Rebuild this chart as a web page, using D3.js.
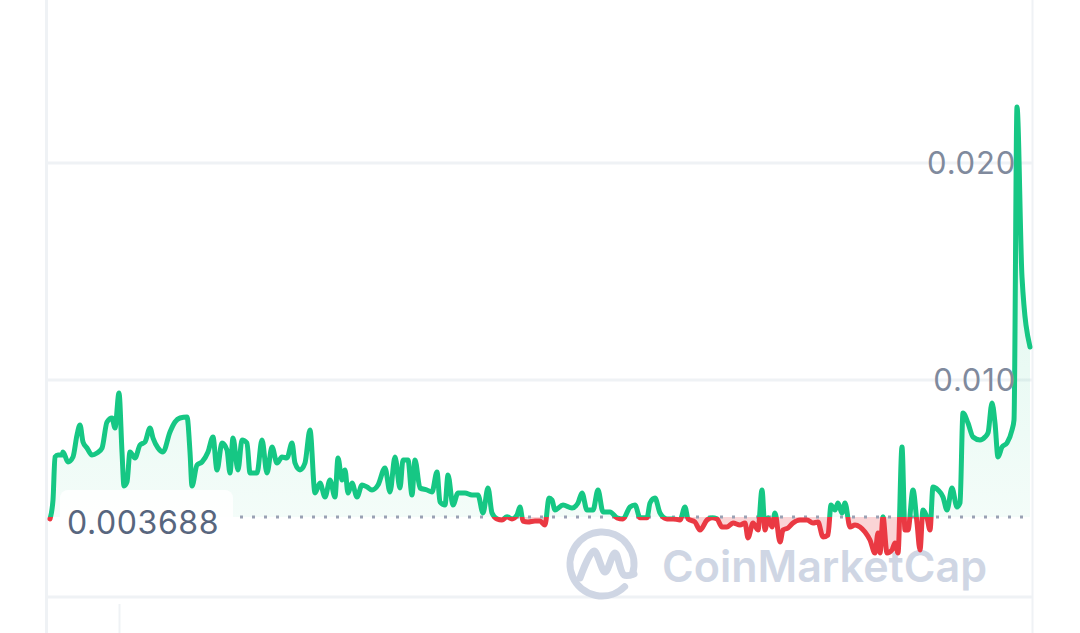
<!DOCTYPE html>
<html><head><meta charset="utf-8">
<script src="https://cdn.jsdelivr.net/npm/d3@7/dist/d3.min.js"></script>
<style>html,body{margin:0;padding:0;background:#fff;}svg{display:block;}</style>
</head><body>
<svg id="chart" width="1080" height="633"></svg>
<script>
// time (hours since start) and price (USD)
const hours = [0,3,5,8,12,13,18,23,27,30,33,37,42,47,52,57,62,65,69,72,74,77,80,85,90,95,100,103,108,113,120,125,130,137,140,142,147,152,158,163,167,172,177,180,183,188,192,197,200,207,212,217,222,227,232,237,242,245,250,255,260,265,270,275,280,285,288,292,295,298,302,307,312,317,322,328,335,340,345,350,353,358,362,365,370,377,382,387,390,395,398,403,408,415,422,428,433,438,442,447,452,457,462,467,470,473,478,485,490,495,499,502,505,513,522,528,532,537,543,548,553,560,567,573,580,585,590,597,600,605,610,617,623,630,635,638,645,650,657,662,667,672,677,683,690,695,698,703,708,712,715,718,722,725,730,733,738,743,750,757,763,768,773,778,781,785,788,792,795,800,805,810,815,820,825,828,830,833,837,842,845,848,852,855,858,863,867,870,873,877,880,883,888,893,897,902,907,910,913,918,923,930,935,938,942,945,948,952,957,962,964,967,972,980];
const prices = [0.003600,0.004470,0.006452,0.006544,0.006544,0.006682,0.006221,0.006452,0.007465,0.007926,0.007143,0.006866,0.006544,0.006636,0.006866,0.008065,0.008249,0.007788,0.009401,0.006682,0.005115,0.005300,0.006682,0.006406,0.007005,0.007143,0.007788,0.007327,0.006866,0.006682,0.007604,0.008065,0.008249,0.008295,0.006682,0.005115,0.006083,0.006221,0.006682,0.007373,0.005853,0.007097,0.006774,0.005714,0.007327,0.005853,0.007235,0.007097,0.005714,0.005714,0.007235,0.005714,0.006912,0.006175,0.006452,0.006406,0.007097,0.006175,0.005853,0.006175,0.007696,0.004793,0.005253,0.004608,0.005392,0.004608,0.006406,0.005392,0.005853,0.004793,0.005253,0.004608,0.005161,0.005069,0.004931,0.005161,0.005945,0.004839,0.006452,0.005023,0.006313,0.006313,0.004700,0.006313,0.005023,0.004931,0.004839,0.005760,0.004378,0.004240,0.005622,0.004240,0.004793,0.004793,0.004700,0.004700,0.003871,0.005023,0.003871,0.003600,0.003550,0.003700,0.003600,0.003780,0.004147,0.003500,0.003456,0.003500,0.003500,0.003318,0.004562,0.004470,0.004009,0.004240,0.004101,0.004332,0.004793,0.004009,0.004009,0.004931,0.003917,0.003917,0.003650,0.003600,0.004147,0.004240,0.003650,0.003650,0.004332,0.004562,0.003871,0.003600,0.003600,0.003548,0.004147,0.003600,0.003456,0.003088,0.003548,0.003650,0.003600,0.003226,0.003226,0.003410,0.003318,0.003410,0.002719,0.003410,0.003088,0.004931,0.003088,0.003650,0.003226,0.003871,0.002535,0.003088,0.003180,0.003410,0.003548,0.003548,0.003410,0.003456,0.002765,0.002857,0.004240,0.004009,0.004332,0.003871,0.004332,0.003226,0.003318,0.003226,0.002995,0.002627,0.002028,0.002949,0.002028,0.003700,0.002028,0.002166,0.002488,0.002028,0.006913,0.003088,0.003088,0.004931,0.003410,0.002166,0.004009,0.003650,0.003088,0.005069,0.004931,0.004608,0.004009,0.005023,0.004147,0.004332,0.008479,0.008018,0.007373,0.007235,0.007373,0.007558,0.008940,0.008018,0.006452,0.006913,0.007097,0.007696,0.008157,0.022581,0.014747,0.011521];
const openPrice = 0.003688;
const openLabel = "0.003688";
const yTicks = [0.010, 0.020];
const yTickLabels = ["0.010", "0.020"];
const watermark = "CoinMarketCap";

const data = hours.map((h,i)=>({h, p: prices[i]}));
const svg = d3.select("#chart");
const W = 1080, H = 633;
const x = d3.scaleLinear().domain([0, 980]).range([50, 1030]);
const y = d3.scaleLinear().domain([0, 0.02]).range([597, 163]);
const FONT = "Inter, 'Noto Sans', sans-serif";
const grid = "#eff2f5";
const green = "#16c784", red = "#ea3943";
const by = y(openPrice);

const defs = svg.append("defs");
const gg = defs.append("linearGradient").attr("id","gfill").attr("gradientUnits","userSpaceOnUse")
  .attr("x1",0).attr("x2",0).attr("y1", y(d3.max(prices))).attr("y2", by);
gg.append("stop").attr("offset","0%").attr("stop-color",green).attr("stop-opacity",0.16);
gg.append("stop").attr("offset","100%").attr("stop-color",green).attr("stop-opacity",0.05);
defs.append("clipPath").attr("id","clipUp").append("rect").attr("x",0).attr("y",0).attr("width",W).attr("height",by);
defs.append("clipPath").attr("id","clipDown").append("rect").attr("x",0).attr("y",by).attr("width",W).attr("height",H-by);

// frame lines
svg.append("line").attr("x1",46.5).attr("x2",46.5).attr("y1",0).attr("y2",H).attr("stroke",grid).attr("stroke-width",3);
svg.append("line").attr("x1",1032.5).attr("x2",1032.5).attr("y1",0).attr("y2",H).attr("stroke",grid).attr("stroke-width",2);
// gridlines
[0, ...yTicks].forEach(v=>{
  svg.append("line").attr("x1",47).attr("x2",1032).attr("y1",y(v)).attr("y2",y(v)).attr("stroke",grid).attr("stroke-width",3);
});
// x tick below
svg.append("line").attr("x1",119.5).attr("x2",119.5).attr("y1",604).attr("y2",H).attr("stroke",grid).attr("stroke-width",2);

// watermark
const wm = svg.append("g").attr("fill","none").attr("stroke","#cfd6e4").attr("stroke-width",7).attr("stroke-linecap","round").attr("stroke-linejoin","round");
const cx = 602, cy = 564, r = 32;
wm.append("path").attr("transform",`translate(${cx},${cy})`).attr("d", d3.arc()({innerRadius:r-0.01,outerRadius:r,startAngle:Math.PI*0.75,endAngle:Math.PI*2.6}));
wm.append("path").attr("d", d3.line().curve(d3.curveCatmullRom)([[580,578],[594,551],[605,572],[615,553],[624,575],[634,574]]));
svg.append("text").attr("x",662).attr("y",582).attr("font-family",FONT).attr("font-weight",600).attr("font-size",44)
  .attr("fill","#cfd6e4").attr("textLength",325).attr("lengthAdjust","spacingAndGlyphs").text(watermark);

// area fills
const areaUp = d3.area().curve(d3.curveMonotoneX).x(d=>x(d.h)).y0(by).y1(d=>y(d.p));
svg.append("path").datum(data).attr("d",areaUp).attr("fill","url(#gfill)").attr("clip-path","url(#clipUp)");
svg.append("path").datum(data).attr("d",areaUp).attr("fill",red).attr("fill-opacity",0.22).attr("clip-path","url(#clipDown)");

// baseline dotted
svg.append("line").attr("x1",240).attr("x2",1030).attr("y1",by).attr("y2",by)
  .attr("stroke","#9aa1b4").attr("stroke-width",3).attr("stroke-dasharray","3 9");

// price line
const line = d3.line().curve(d3.curveMonotoneX).x(d=>x(d.h)).y(d=>y(d.p));
svg.append("path").datum(data).attr("d",line).attr("fill","none").attr("stroke",green).attr("stroke-width",5)
  .attr("stroke-linejoin","round").attr("stroke-linecap","round").attr("clip-path","url(#clipUp)");
svg.append("path").datum(data).attr("d",line).attr("fill","none").attr("stroke",red).attr("stroke-width",5)
  .attr("stroke-linejoin","round").attr("stroke-linecap","round").attr("clip-path","url(#clipDown)");

// open label
svg.append("rect").attr("x",60).attr("y",490).attr("width",173).attr("height",52).attr("rx",8).attr("fill","#fff").attr("fill-opacity",0.85);
svg.append("text").attr("x",67).attr("y",534).attr("font-family",FONT).attr("font-size",32).attr("letter-spacing",0.6).attr("fill","#58667e").text(openLabel);

// y labels
yTicks.forEach((v,i)=>{
  svg.append("text").attr("x",1016).attr("y",y(v)+11).attr("text-anchor","end").attr("font-family",FONT)
    .attr("font-size",31).attr("letter-spacing",0.8).attr("fill","#808a9d").text(yTickLabels[i]);
});
</script>
</body></html>
